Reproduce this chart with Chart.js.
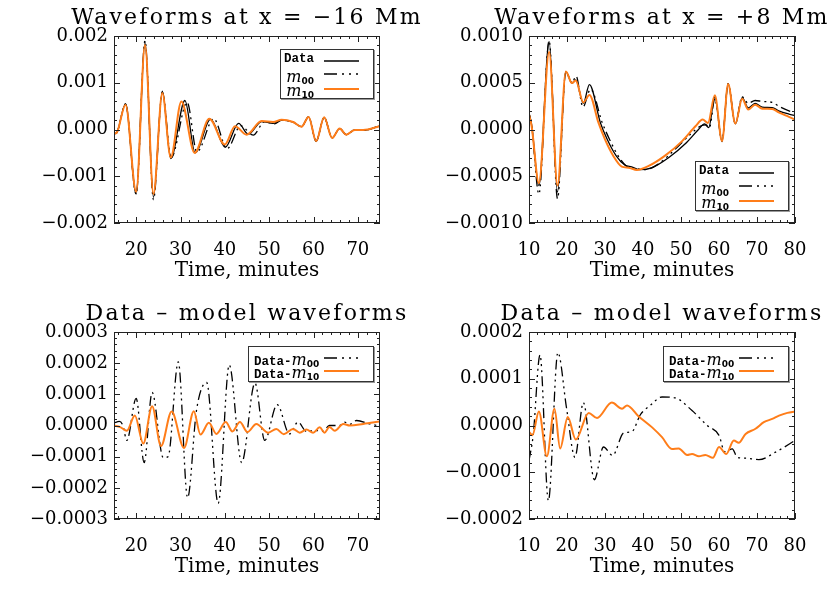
<!DOCTYPE html>
<html>
<head>
<meta charset="utf-8">
<script src="https://cdn.jsdelivr.net/npm/chart.js@4.4.1/dist/chart.umd.min.js"></script>
<style>
  body { margin: 0; width: 830px; height: 593px; background: #fff; position: relative; overflow: hidden; }
  .panel { position: absolute; width: 415px; height: 290px; }
  .panel canvas { position: absolute; left: 0; top: 0; }
  .ttl { position: absolute; left: -3px; width: 500px; top: 5px; text-align: center; white-space: nowrap;
         font: 22px "DejaVu Serif"; letter-spacing: 2.2px; line-height: 24px; color: #000; }
  .leg { position: absolute; background: #fff; border: 1px solid #333; box-shadow: 1px 1px 0 #999; }
  .lab { position: absolute; white-space: nowrap; line-height: 16px; height: 16px; color: #000; }
  .mono { font: bold 12.5px "Liberation Mono"; }
  .m { font: italic 16px "DejaVu Serif"; }
  .lab sub { font: bold 9px "DejaVu Sans"; vertical-align: -2px; }
  .leg svg { position: absolute; }
</style>
</head>
<body>

<div class="panel" style="left:0;top:0">
  <canvas id="c1" width="415" height="290"></canvas>
  <div class="ttl">Waveforms at x = −16 Mm</div>
  <div class="leg" style="left:280px;top:49px;width:92px;height:48px">
    <div class="lab mono" style="right:59px;top:2px">Data</div>
    <svg style="left:43px;top:8px" width="35" height="6"><line x1="0" y1="3" x2="35" y2="3" stroke="#000" stroke-width="1.3"/></svg>
    <div class="lab" style="right:59px;top:17px"><span class="m">m</span><sub>00</sub></div>
    <svg style="left:43px;top:21px" width="35" height="6"><line x1="0" y1="3" x2="35" y2="3" stroke="#000" stroke-width="1.3" stroke-dasharray="13 5 2 5 2 5 2 5"/></svg>
    <div class="lab" style="right:59px;top:31px"><span class="m">m</span><sub>10</sub></div>
    <svg style="left:43px;top:36px" width="35" height="6"><line x1="0" y1="3" x2="35" y2="3" stroke="#ff7d19" stroke-width="2"/></svg>
  </div>
</div>

<div class="panel" style="left:415px;top:0">
  <canvas id="c2" width="415" height="290"></canvas>
  <div class="ttl">Waveforms at x = +8 Mm</div>
  <div class="leg" style="left:280px;top:161px;width:92px;height:48px">
    <div class="lab mono" style="right:59px;top:2px">Data</div>
    <svg style="left:43px;top:8px" width="35" height="6"><line x1="0" y1="3" x2="35" y2="3" stroke="#000" stroke-width="1.3"/></svg>
    <div class="lab" style="right:59px;top:17px"><span class="m">m</span><sub>00</sub></div>
    <svg style="left:43px;top:21px" width="35" height="6"><line x1="0" y1="3" x2="35" y2="3" stroke="#000" stroke-width="1.3" stroke-dasharray="13 5 2 5 2 5 2 5"/></svg>
    <div class="lab" style="right:59px;top:31px"><span class="m">m</span><sub>10</sub></div>
    <svg style="left:43px;top:36px" width="35" height="6"><line x1="0" y1="3" x2="35" y2="3" stroke="#ff7d19" stroke-width="2"/></svg>
  </div>
</div>

<div class="panel" style="left:0;top:296px">
  <canvas id="c3" width="415" height="290"></canvas>
  <div class="ttl">Data – model waveforms</div>
  <div class="leg" style="left:248px;top:50px;width:124px;height:34px">
    <div class="lab" style="left:5px;top:3px"><span class="mono">Data-</span><span class="m">m</span><sub>00</sub></div>
    <svg style="left:75px;top:8px" width="35" height="6"><line x1="0" y1="3" x2="35" y2="3" stroke="#000" stroke-width="1.3" stroke-dasharray="13 5 2 5 2 5 2 5"/></svg>
    <div class="lab" style="left:5px;top:16px"><span class="mono">Data-</span><span class="m">m</span><sub>10</sub></div>
    <svg style="left:75px;top:21px" width="35" height="6"><line x1="0" y1="3" x2="35" y2="3" stroke="#ff7d19" stroke-width="2"/></svg>
  </div>
</div>

<div class="panel" style="left:415px;top:296px">
  <canvas id="c4" width="415" height="290"></canvas>
  <div class="ttl">Data – model waveforms</div>
  <div class="leg" style="left:248px;top:50px;width:124px;height:34px">
    <div class="lab" style="left:5px;top:3px"><span class="mono">Data-</span><span class="m">m</span><sub>00</sub></div>
    <svg style="left:75px;top:8px" width="35" height="6"><line x1="0" y1="3" x2="35" y2="3" stroke="#000" stroke-width="1.3" stroke-dasharray="13 5 2 5 2 5 2 5"/></svg>
    <div class="lab" style="left:5px;top:16px"><span class="mono">Data-</span><span class="m">m</span><sub>10</sub></div>
    <svg style="left:75px;top:21px" width="35" height="6"><line x1="0" y1="3" x2="35" y2="3" stroke="#ff7d19" stroke-width="2"/></svg>
  </div>
</div>

<script>
// ---- panel 1 : waveforms at x = -16 Mm ----
const p1TimeTicks = [20, 30, 40, 50, 60, 70];
const p1ValueTicks = [-0.002, -0.001, 0, 0.001, 0.002];

const p1DataT = [15, 15.6, 17.6, 20.0, 22.0, 23.9, 25.9, 27.8, 31.0, 33.3, 36.8, 40.1, 43.1, 45.3, 48.3, 50.9, 52.8, 55.4, 57.3, 58.9, 60.6, 62.4, 64.2, 65.9, 67.4, 69.3, 71.2, 75];
const p1DataV = [-9e-5, -7e-5, 5.5e-4, -1.38e-3, 1.88e-3, -1.45e-3, 8.2e-4, -6.2e-4, 6.2e-4, -5.0e-4, 2.2e-4, -3.8e-4, 1.3e-4, -1.0e-4, 1.7e-4, 1.3e-4, 2.0e-4, 1.6e-4, 6e-5, 2.7e-4, -2.5e-4, 2.6e-4, -1.8e-4, 2e-5, -1.1e-4, -1e-5, -2e-5, 8e-5];

const p1M00T = [15, 15.6, 17.6, 20.0, 22.0, 23.9, 25.9, 27.9, 31.5, 33.7, 37.5, 40.5, 43.6, 46.4, 49.0, 51.2, 52.8, 55.4, 57.3, 58.9, 60.6, 62.4, 64.2, 65.9, 67.4, 69.3, 71.2, 75];
const p1M00V = [-9e-5, -7e-5, 5.5e-4, -1.38e-3, 1.90e-3, -1.50e-3, 8.0e-4, -6.0e-4, 5.8e-4, -4.8e-4, 2.3e-4, -4.1e-4, 8e-5, -1.2e-4, 1.7e-4, 1.2e-4, 2.0e-4, 1.6e-4, 6e-5, 2.7e-4, -2.5e-4, 2.6e-4, -1.8e-4, 2e-5, -1.1e-4, -1e-5, -2e-5, 8e-5];

const p1M10T = [15, 15.6, 17.6, 20.0, 22.0, 23.9, 25.9, 27.8, 30.2, 33.2, 36.5, 40.0, 42.3, 44.9, 48.3, 50.9, 52.8, 55.4, 57.3, 58.9, 60.6, 62.4, 64.2, 65.9, 67.4, 69.3, 71.2, 75];
const p1M10V = [-9e-5, -7e-5, 5.3e-4, -1.33e-3, 1.81e-3, -1.38e-3, 7.8e-4, -6.0e-4, 6.0e-4, -5.0e-4, 2.3e-4, -3.2e-4, 7e-5, -1.1e-4, 1.8e-4, 1.6e-4, 2.1e-4, 1.6e-4, 6e-5, 2.7e-4, -2.5e-4, 2.6e-4, -1.8e-4, 2e-5, -1.1e-4, -1e-5, -1e-5, 7e-5];

// ---- panel 2 : waveforms at x = +8 Mm ----
const p2TimeTicks = [10, 20, 30, 40, 50, 60, 70, 80];
const p2ValueTicks = [-0.001, -0.0005, 0, 0.0005, 0.001];

const p2DataT = [10, 10.7, 12.6, 15.3, 17.5, 19.7, 21.3, 22.3, 24.3, 25.9, 28.8, 30.6, 33.0, 35.2, 37.0, 39.2, 42.3, 46.8, 51.2, 54.6, 56.2, 57.3, 58.9, 60.8, 62.4, 64.3, 66.1, 67.7, 69.5, 71.4, 74.0, 75.7, 78.4, 80];
const p2DataV = [1.77e-4, 5e-5, -6.0e-4, 9.4e-4, -6.7e-4, 6.2e-4, 4.96e-4, 5.3e-4, 2.8e-4, 4.8e-4, 7e-5, -1.06e-4, -2.84e-4, -3.8e-4, -4.0e-4, -4.3e-4, -4.1e-4, -3.0e-4, -1.5e-4, 0, 6e-5, 2e-5, 3.5e-4, -1.3e-4, 4.9e-4, 6e-5, 3.4e-4, 2.3e-4, 2.8e-4, 2.4e-4, 2.35e-4, 2.0e-4, 1.65e-4, 1.5e-4];

const p2M00T = [10, 10.7, 12.6, 15.3, 17.5, 19.7, 21.3, 22.4, 24.2, 26.2, 29.3, 31.2, 33.5, 35.6, 37.5, 40.5, 44.0, 48.5, 52.5, 55.3, 56.6, 57.5, 58.9, 60.8, 62.4, 64.3, 66.1, 67.7, 69.5, 71.4, 74.0, 75.7, 78.4, 80];
const p2M00V = [1.77e-4, 4e-5, -6.9e-4, 9.5e-4, -7.4e-4, 6.2e-4, 5.0e-4, 5.7e-4, 2.4e-4, 4.3e-4, 7e-5, -1.06e-4, -2.84e-4, -3.9e-4, -4.1e-4, -4.3e-4, -3.7e-4, -2.1e-4, -5e-5, 4e-5, 5e-5, 2e-5, 3.3e-4, -1.2e-4, 4.9e-4, 6e-5, 3.5e-4, 2.8e-4, 3.1e-4, 3.0e-4, 2.9e-4, 2.5e-4, 2.0e-4, 1.77e-4];

const p2M10T = [10, 10.7, 12.6, 15.3, 17.5, 19.7, 21.3, 22.3, 24.3, 25.9, 28.3, 30.0, 32.2, 34.4, 36.2, 38.4, 41.5, 45.9, 50.3, 53.8, 55.7, 57.1, 58.9, 60.8, 62.4, 64.3, 66.1, 67.7, 69.5, 71.4, 74.0, 75.7, 78.4, 80];
const p2M10V = [1.6e-4, 3.5e-5, -5.74e-4, 8.3e-4, -6.0e-4, 6.2e-4, 4.96e-4, 5.25e-4, 2.9e-4, 3.7e-4, 7e-5, -1.06e-4, -2.84e-4, -3.97e-4, -4.08e-4, -4.33e-4, -3.9e-4, -2.77e-4, -1.24e-4, 3.5e-5, 1.06e-4, 7e-5, 3.65e-4, -1.24e-4, 4.86e-4, 6.4e-5, 3.3e-4, 2.13e-4, 2.66e-4, 2.23e-4, 2.2e-4, 1.84e-4, 1.35e-4, 1.06e-4];

// ---- panel 3 : data - model, x = -16 Mm ----
const p3TimeTicks = [20, 30, 40, 50, 60, 70];
const p3ValueTicks = [-0.0003, -0.0002, -0.0001, 0, 0.0001, 0.0002, 0.0003];

const p3M00T = [15, 16.2, 17.0, 17.9, 20.0, 21.8, 23.6, 26.1, 27.2, 29.5, 31.6, 33.6, 35.9, 38.5, 41.0, 43.8, 46.8, 49.0, 51.8, 54.6, 56.5, 58.4, 60.6, 62.1, 63.6, 65.9, 67.0, 68.2, 69.7, 72.7, 75];
const p3M00V = [8.5e-6, 1.3e-5, 0, -4.8e-5, 8.7e-5, -1.19e-4, 1.06e-4, -1.03e-4, -1.0e-4, 2.04e-4, -2.32e-4, 4.8e-5, 1.38e-4, -2.5e-4, 1.94e-4, -1.19e-4, 1.36e-4, -4.8e-5, 6.7e-5, -2.7e-5, 1.1e-5, -1.9e-5, -1.6e-5, -1.9e-5, 0, 0, 1.1e-5, 4e-6, 1.6e-5, 5e-6, -2e-6];

const p3M10T = [15, 16.4, 17.9, 19.7, 21.6, 23.6, 25.6, 28.0, 30.8, 33.0, 34.5, 36.4, 38.1, 40.2, 41.7, 43.4, 45.1, 47.1, 49.8, 51.6, 53.3, 55.4, 56.9, 58.4, 59.9, 61.4, 62.5, 63.6, 64.8, 66.7, 68.2, 71.2, 75];
const p3M10V = [0, -5e-6, -1.7e-5, 3.2e-5, -5.8e-5, 6.2e-5, -6.6e-5, 4.5e-5, -7.2e-5, 4.6e-5, -2.9e-5, 8.5e-6, -2.7e-5, 1.1e-5, -1.9e-5, 1.1e-5, -2.1e-5, 5e-6, -2.3e-5, -1.1e-5, -2.8e-5, -1.1e-5, -2.3e-5, -1.3e-5, -2.3e-5, -6e-6, -2.3e-5, -5e-6, -1.7e-5, 5e-6, 0, 5e-6, 1.3e-5];

// ---- panel 4 : data - model, x = +8 Mm ----
const p4TimeTicks = [10, 20, 30, 40, 50, 60, 70, 80];
const p4ValueTicks = [-0.0002, -0.0001, 0, 0.0001, 0.0002];

const p4M00T = [10, 11.1, 12.9, 15.1, 17.6, 19.9, 22.1, 24.3, 27.2, 29.6, 32.0, 34.9, 37.1, 39.3, 41.9, 45.0, 48.5, 52.9, 56.9, 60.0, 61.5, 63.5, 64.8, 67.0, 70.5, 74.9, 80];
const p4M00V = [-7.5e-5, -2.1e-5, 1.51e-4, -1.61e-4, 1.56e-4, 3.6e-5, -6.8e-5, 4.9e-5, -1.16e-4, -4.6e-5, -6.4e-5, -1.6e-5, -1.3e-5, 2.3e-5, 4.3e-5, 6.1e-5, 5.9e-5, 3.2e-5, 0, -2.1e-5, -5.6e-5, -5.0e-5, -6.8e-5, -7.0e-5, -7.3e-5, -5.7e-5, -3.2e-5];

const p4M10T = [10, 10.9, 12.6, 14.7, 16.7, 18.2, 20.2, 22.3, 25.7, 27.9, 31.8, 34.5, 35.8, 38.8, 42.4, 45.0, 47.6, 49.4, 51.6, 52.9, 54.7, 56.4, 58.4, 60.0, 61.9, 63.9, 65.2, 67.0, 69.6, 71.8, 74.0, 75.8, 78.0, 80];
const p4M10V = [-1.3e-5, -2.1e-5, 3.0e-5, -6.6e-5, 3.6e-5, -4.9e-5, 1.8e-5, -3.0e-5, 2.7e-5, 1.6e-5, 4.9e-5, 3.6e-5, 4.3e-5, 2.0e-5, -4e-6, -2.5e-5, -5.0e-5, -4.9e-5, -6.3e-5, -6.1e-5, -6.6e-5, -6.3e-5, -6.9e-5, -4.6e-5, -6.1e-5, -3.2e-5, -3.7e-5, -1.8e-5, -7e-6, 7e-6, 1.4e-5, 2.1e-5, 2.7e-5, 3.0e-5];

// line looks
const ORANGE = "#ff7d19";
const lookData = { borderColor: "#000", borderWidth: 1.3, order: 1 };
const lookM00 = { borderColor: "#000", borderWidth: 1.3, borderDash: [10, 4, 2, 4, 2, 4, 2, 4], order: 2 };
const lookM10 = { borderColor: ORANGE, borderWidth: 2, order: 0 };

Chart.defaults.font.family = "DejaVu Serif";
Chart.defaults.color = "#000";

// IDL-ish box with inward major + minor ticks on all four sides
const boxTicks = {
  id: "boxTicks",
  afterDraw(chart, args, opts) {
    const { ctx, chartArea: a, scales: { x, y } } = chart;
    ctx.save();
    ctx.strokeStyle = "#222";
    ctx.lineWidth = 1;
    ctx.strokeRect(a.left + 0.5, a.top + 0.5, a.right - a.left - 1, a.bottom - a.top - 1);
    ctx.beginPath();
    const walk = (scale, step, major, fn) => {
      const i0 = Math.ceil(scale.min / step - 1e-6), i1 = Math.floor(scale.max / step + 1e-6);
      for (let i = i0; i <= i1; i++) {
        const v = i * step;
        const r = v / major;
        const isMajor = Math.abs(r - Math.round(r)) < 1e-6;
        fn(Math.round(scale.getPixelForValue(v)) + 0.5, isMajor ? 6 : 3);
      }
    };
    walk(x, opts.xMinor, opts.xMajor, (px, len) => {
      ctx.moveTo(px, a.bottom); ctx.lineTo(px, a.bottom - len);
      ctx.moveTo(px, a.top); ctx.lineTo(px, a.top + len);
    });
    walk(y, opts.yMinor, opts.yMajor, (py, len) => {
      ctx.moveTo(a.left, py); ctx.lineTo(a.left + len, py);
      ctx.moveTo(a.right, py); ctx.lineTo(a.right - len, py);
    });
    ctx.stroke();
    ctx.restore();
  }
};

function zip(t, v) {
  return t.map((tt, i) => ({ x: tt, y: v[i] }));
}

function fmt(v, dec) {
  const s = Math.abs(v).toFixed(dec);
  return (v < -1e-12 ? "\u2212" : "") + s;
}

function makePanel(id, cfg) {
  new Chart(document.getElementById(id), {
    type: "line",
    data: {
      datasets: cfg.series.map(s => Object.assign({
        data: zip(s.t, s.v),
        pointRadius: 0,
        fill: false,
        cubicInterpolationMode: "monotone"
      }, s.look))
    },
    options: {
      responsive: false,
      animation: false,
      events: [],
      layout: { padding: { top: 36, right: 35, left: 0, bottom: 0 } },
      plugins: {
        legend: { display: false },
        tooltip: { enabled: false },
        boxTicks: { xMinor: 2, xMajor: 10, yMinor: cfg.yMinor, yMajor: cfg.yMajor }
      },
      scales: {
        x: {
          type: "linear",
          min: cfg.xMin, max: cfg.xMax,
          afterBuildTicks: s => { s.ticks = cfg.xTicks.map(value => ({ value })); },
          afterFit: s => { s.height = 67; },
          grid: { display: false, drawTicks: false },
          border: { display: false },
          ticks: { padding: 17, font: { size: 18 }, maxRotation: 0, autoSkip: false, callback: v => String(v) },
          title: { display: true, text: "Time, minutes", font: { size: 20 }, padding: { top: 0, bottom: 7 } }
        },
        y: {
          min: cfg.yMin, max: cfg.yMax,
          afterBuildTicks: s => { s.ticks = cfg.yTicks.map(value => ({ value })); },
          afterFit: s => { s.width = 114; },
          grid: { display: false, drawTicks: false },
          border: { display: false },
          ticks: { padding: 6, font: { size: 18 }, autoSkip: false, callback: v => fmt(v, cfg.dec) }
        }
      }
    },
    plugins: [boxTicks]
  });
}

makePanel("c1", {
  xMin: 15, xMax: 75, yMin: -0.002, yMax: 0.002, yMajor: 0.001, yMinor: 0.0002, dec: 3,
  xTicks: p1TimeTicks, yTicks: p1ValueTicks,
  series: [
    { t: p1DataT, v: p1DataV, look: lookData },
    { t: p1M00T, v: p1M00V, look: lookM00 },
    { t: p1M10T, v: p1M10V, look: lookM10 }
  ]
});

makePanel("c2", {
  xMin: 10, xMax: 80, yMin: -0.001, yMax: 0.001, yMajor: 0.0005, yMinor: 0.0001, dec: 4,
  xTicks: p2TimeTicks, yTicks: p2ValueTicks,
  series: [
    { t: p2DataT, v: p2DataV, look: lookData },
    { t: p2M00T, v: p2M00V, look: lookM00 },
    { t: p2M10T, v: p2M10V, look: lookM10 }
  ]
});

makePanel("c3", {
  xMin: 15, xMax: 75, yMin: -0.0003, yMax: 0.0003, yMajor: 0.0001, yMinor: 0.00002, dec: 4,
  xTicks: p3TimeTicks, yTicks: p3ValueTicks,
  series: [
    { t: p3M00T, v: p3M00V, look: lookM00 },
    { t: p3M10T, v: p3M10V, look: lookM10 }
  ]
});

makePanel("c4", {
  xMin: 10, xMax: 80, yMin: -0.0002, yMax: 0.0002, yMajor: 0.0001, yMinor: 0.00002, dec: 4,
  xTicks: p4TimeTicks, yTicks: p4ValueTicks,
  series: [
    { t: p4M00T, v: p4M00V, look: lookM00 },
    { t: p4M10T, v: p4M10V, look: lookM10 }
  ]
});
</script>
</body>
</html>
